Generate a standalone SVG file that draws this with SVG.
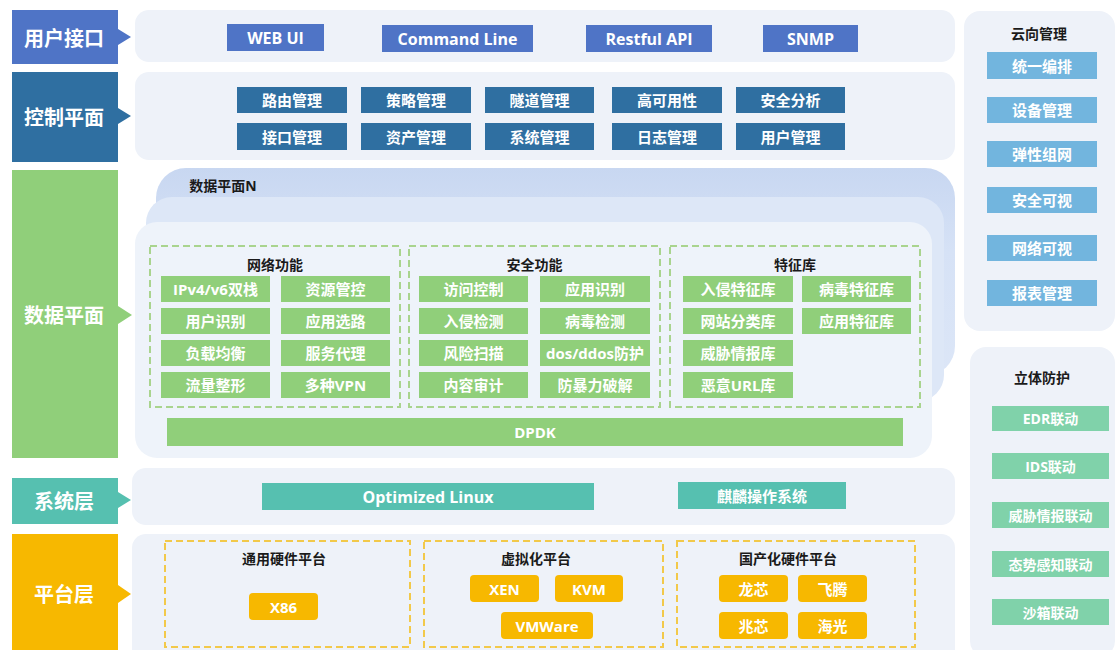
<svg xmlns="http://www.w3.org/2000/svg" width="1115" height="650" viewBox="0 0 1115 650">
<defs>
<style>
text{font-family:"Open Sans","Noto Sans CJK SC",sans-serif;font-weight:700;text-anchor:middle;dominant-baseline:central}
.lbl{fill:#fff;font-size:20px}
.w{fill:#fff;font-size:15px}
.wl{fill:#fff;font-size:16px}
.ws{fill:#fff;font-size:14px}
.t{fill:#1a1a1a;font-size:14px}
.panel{fill:#eef2f9}
.b1{fill:#4f74c6}
.b2{fill:#2f6fa1}
.g{fill:#90cf7a}
.tl{fill:#56c0b0}
.o{fill:#f7b800}
.sky{fill:#72b5de}
.mint{fill:#80d2aa}
.dg{fill:none;stroke:#a9d48e;stroke-width:2;stroke-dasharray:7 4}
.do{fill:none;stroke:#f2c94a;stroke-width:2;stroke-dasharray:7 4}
</style>
<linearGradient id="backg" x1="0" y1="0" x2="0" y2="1">
<stop offset="0" stop-color="#c8d7f1"/>
<stop offset="0.4" stop-color="#d6e2f6"/>
<stop offset="1" stop-color="#dce6f7"/>
</linearGradient>
</defs>
<rect width="1115" height="650" fill="#fff"/>

<!-- layer labels -->
<g id="label-user">
<rect x="12" y="10" width="106" height="54" class="b1"/>
<polygon points="118,29 131,37 118,45" class="b1"/>
<text x="64" y="38" class="lbl">用户接口</text>
</g>
<g id="label-control">
<rect x="12" y="72" width="106" height="90" class="b2"/>
<polygon points="118,108 131,116 118,124" class="b2"/>
<text x="64" y="117" class="lbl">控制平面</text>
</g>
<g id="label-data">
<rect x="12" y="170" width="106" height="288" class="g"/>
<polygon points="118,306 132,315 118,324" class="g"/>
<text x="64" y="315" class="lbl">数据平面</text>
</g>
<g id="label-system">
<rect x="12" y="478" width="106" height="46" class="tl"/>
<polygon points="118,492 131,500 118,508" class="tl"/>
<text x="64" y="501" class="lbl">系统层</text>
</g>
<g id="label-platform">
<rect x="12" y="534" width="106" height="116" class="o"/>
<polygon points="118,585 131,594 118,603" class="o"/>
<text x="64" y="594" class="lbl">平台层</text>
</g>

<!-- user interface row -->
<g id="user-interface">
<rect x="135" y="10" width="820" height="52" rx="14" class="panel"/>
<rect x="227" y="24" width="97" height="27" class="b1"/>
<text x="275.5" y="37.5" class="wl">WEB UI</text>
<rect x="382" y="25" width="151" height="27" class="b1"/>
<text x="457.5" y="38.5" class="wl">Command Line</text>
<rect x="586" y="25" width="126" height="27" class="b1"/>
<text x="649" y="38.5" class="wl">Restful API</text>
<rect x="763" y="25" width="95" height="27" class="b1"/>
<text x="810.5" y="38.5" class="wl">SNMP</text>
</g>

<!-- control plane -->
<g id="control-plane">
<rect x="135" y="72" width="820" height="88" rx="14" class="panel"/>
<rect x="237" y="87" width="110" height="26" class="b2"/><text x="292" y="100" class="w">路由管理</text>
<rect x="361" y="87" width="110" height="26" class="b2"/><text x="416" y="100" class="w">策略管理</text>
<rect x="485" y="87" width="109" height="26" class="b2"/><text x="539.5" y="100" class="w">隧道管理</text>
<rect x="612" y="87" width="110" height="26" class="b2"/><text x="667" y="100" class="w">高可用性</text>
<rect x="736" y="87" width="109" height="26" class="b2"/><text x="790.5" y="100" class="w">安全分析</text>
<rect x="237" y="123" width="110" height="27" class="b2"/><text x="292" y="136.5" class="w">接口管理</text>
<rect x="361" y="123" width="110" height="27" class="b2"/><text x="416" y="136.5" class="w">资产管理</text>
<rect x="485" y="123" width="109" height="27" class="b2"/><text x="539.5" y="136.5" class="w">系统管理</text>
<rect x="612" y="123" width="110" height="27" class="b2"/><text x="667" y="136.5" class="w">日志管理</text>
<rect x="736" y="123" width="109" height="27" class="b2"/><text x="790.5" y="136.5" class="w">用户管理</text>
</g>

<!-- data plane -->
<g id="data-plane">
<rect x="156" y="168" width="799" height="208" rx="30" fill="url(#backg)"/>
<text x="223" y="185" class="t">数据平面N</text>
<rect x="146" y="197" width="798" height="204" rx="26" fill="#dde7f7"/>
<rect x="135" y="222" width="797" height="236" rx="22" fill="#eef3fa"/>

<g id="network-functions">
<rect x="150" y="246" width="250" height="161" class="dg"/>
<text x="275" y="264" class="t">网络功能</text>
<rect x="161" y="276" width="109" height="26" class="g"/><text x="215.5" y="289" class="w">IPv4/v6双栈</text>
<rect x="281" y="276" width="109" height="26" class="g"/><text x="335.5" y="289" class="w">资源管控</text>
<rect x="161" y="308" width="109" height="26" class="g"/><text x="215.5" y="321" class="w">用户识别</text>
<rect x="281" y="308" width="109" height="26" class="g"/><text x="335.5" y="321" class="w">应用选路</text>
<rect x="161" y="340" width="109" height="26" class="g"/><text x="215.5" y="353" class="w">负载均衡</text>
<rect x="281" y="340" width="109" height="26" class="g"/><text x="335.5" y="353" class="w">服务代理</text>
<rect x="161" y="372" width="109" height="26" class="g"/><text x="215.5" y="385" class="w">流量整形</text>
<rect x="281" y="372" width="109" height="26" class="g"/><text x="335.5" y="385" class="w">多种VPN</text>
</g>

<g id="security-functions">
<rect x="409" y="246" width="251" height="161" class="dg"/>
<text x="534.5" y="264" class="t">安全功能</text>
<rect x="419" y="276" width="109" height="26" class="g"/><text x="473.5" y="289" class="w">访问控制</text>
<rect x="540" y="276" width="110" height="26" class="g"/><text x="595" y="289" class="w">应用识别</text>
<rect x="419" y="308" width="109" height="26" class="g"/><text x="473.5" y="321" class="w">入侵检测</text>
<rect x="540" y="308" width="110" height="26" class="g"/><text x="595" y="321" class="w">病毒检测</text>
<rect x="419" y="340" width="109" height="26" class="g"/><text x="473.5" y="353" class="w">风险扫描</text>
<rect x="540" y="340" width="110" height="26" class="g"/><text x="595" y="353" class="w">dos/ddos防护</text>
<rect x="419" y="372" width="109" height="26" class="g"/><text x="473.5" y="385" class="w">内容审计</text>
<rect x="540" y="372" width="110" height="26" class="g"/><text x="595" y="385" class="w">防暴力破解</text>
</g>

<g id="signature-db">
<rect x="670" y="246" width="250" height="161" class="dg"/>
<text x="795" y="264" class="t">特征库</text>
<rect x="683" y="276" width="110" height="26" class="g"/><text x="738" y="289" class="w">入侵特征库</text>
<rect x="802" y="276" width="109" height="26" class="g"/><text x="856.5" y="289" class="w">病毒特征库</text>
<rect x="683" y="308" width="110" height="26" class="g"/><text x="738" y="321" class="w">网站分类库</text>
<rect x="802" y="308" width="109" height="26" class="g"/><text x="856.5" y="321" class="w">应用特征库</text>
<rect x="683" y="340" width="110" height="26" class="g"/><text x="738" y="353" class="w">威胁情报库</text>
<rect x="683" y="372" width="110" height="26" class="g"/><text x="738" y="385" class="w">恶意URL库</text>
</g>

<g id="dpdk">
<rect x="167" y="418" width="736" height="28" class="g"/>
<text x="535" y="432" class="w">DPDK</text>
</g>
</g>

<!-- system layer -->
<g id="system-layer">
<rect x="132" y="468" width="823" height="57" rx="14" class="panel"/>
<rect x="262" y="483" width="332" height="27" class="tl"/>
<text x="428" y="496.5" class="wl">Optimized Linux</text>
<rect x="678" y="482" width="168" height="27" class="tl"/>
<text x="762" y="495.5" class="w">麒麟操作系统</text>
</g>

<!-- platform layer -->
<g id="platform-layer">
<rect x="132" y="534" width="823" height="130" rx="14" class="panel"/>
<g id="general-hw">
<rect x="165" y="541" width="245" height="106" class="do"/>
<text x="284" y="558" class="t">通用硬件平台</text>
<rect x="249" y="593" width="69" height="27" rx="4" class="o"/><text x="283.5" y="606.5" class="w">X86</text>
</g>
<g id="virtual-platform">
<rect x="424" y="541" width="239" height="106" class="do"/>
<text x="536" y="558" class="t">虚拟化平台</text>
<rect x="470" y="575" width="69" height="27" rx="4" class="o"/><text x="504.5" y="588.5" class="w">XEN</text>
<rect x="555" y="575" width="68" height="27" rx="4" class="o"/><text x="589" y="588.5" class="w">KVM</text>
<rect x="501" y="612" width="92" height="27" rx="4" class="o"/><text x="547" y="625.5" class="w">VMWare</text>
</g>
<g id="domestic-hw">
<rect x="677" y="541" width="238" height="106" class="do"/>
<text x="788" y="558" class="t">国产化硬件平台</text>
<rect x="719" y="575" width="69" height="27" rx="4" class="o"/><text x="753.5" y="588.5" class="w">龙芯</text>
<rect x="798" y="575" width="69" height="27" rx="4" class="o"/><text x="832.5" y="588.5" class="w">飞腾</text>
<rect x="719" y="612" width="69" height="27" rx="4" class="o"/><text x="753.5" y="625.5" class="w">兆芯</text>
<rect x="798" y="612" width="69" height="27" rx="4" class="o"/><text x="832.5" y="625.5" class="w">海光</text>
</g>
</g>

<!-- right column -->
<g id="cloud-management">
<rect x="964" y="11" width="151" height="320" rx="16" class="panel"/>
<text x="1039" y="33" class="t">云向管理</text>
<rect x="987" y="52" width="110" height="27" class="sky"/><text x="1042" y="65.5" class="w">统一编排</text>
<rect x="987" y="97" width="110" height="26" class="sky"/><text x="1042" y="110" class="w">设备管理</text>
<rect x="987" y="141" width="110" height="26" class="sky"/><text x="1042" y="154" class="w">弹性组网</text>
<rect x="987" y="187" width="110" height="26" class="sky"/><text x="1042" y="200" class="w">安全可视</text>
<rect x="987" y="235" width="110" height="26" class="sky"/><text x="1042" y="248" class="w">网络可视</text>
<rect x="987" y="280" width="110" height="26" class="sky"/><text x="1042" y="293" class="w">报表管理</text>
</g>
<g id="3d-protection">
<rect x="970" y="347" width="145" height="310" rx="16" class="panel"/>
<text x="1042" y="377" class="t">立体防护</text>
<rect x="992" y="406" width="117" height="25" class="mint"/><text x="1050.5" y="418.5" class="ws">EDR联动</text>
<rect x="992" y="453" width="117" height="26" class="mint"/><text x="1050.5" y="466" class="ws">IDS联动</text>
<rect x="992" y="502" width="117" height="26" class="mint"/><text x="1050.5" y="515" class="ws">威胁情报联动</text>
<rect x="992" y="551" width="117" height="26" class="mint"/><text x="1050.5" y="564" class="ws">态势感知联动</text>
<rect x="992" y="599" width="117" height="26" class="mint"/><text x="1050.5" y="612" class="ws">沙箱联动</text>
</g>
<g id="connectors"/>
</svg>
